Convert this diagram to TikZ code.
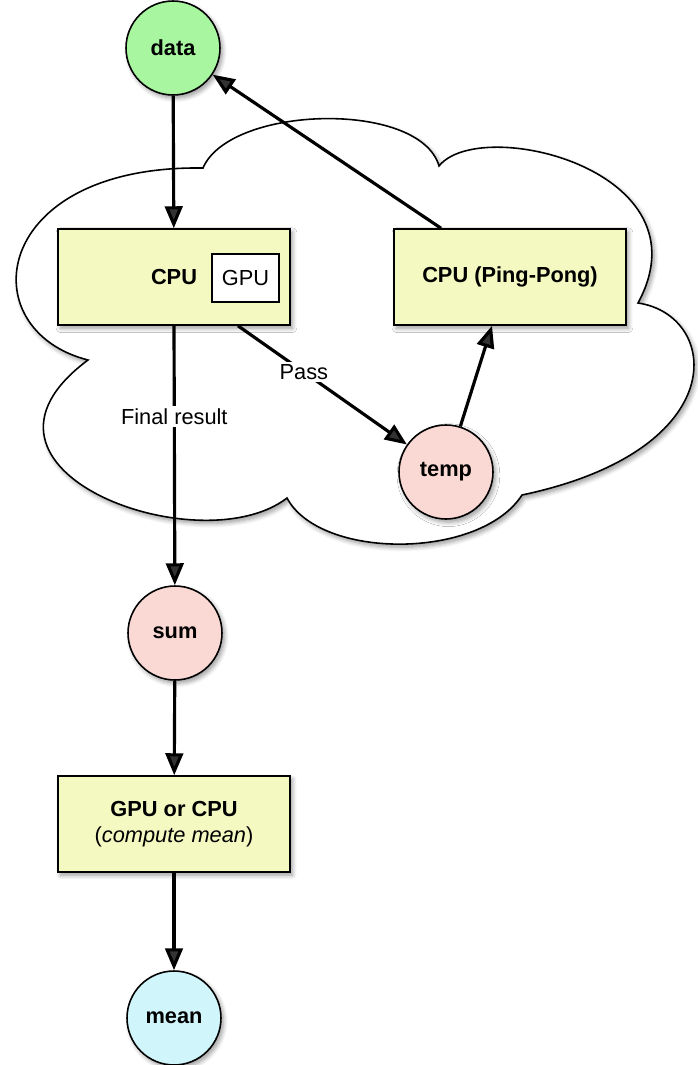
\documentclass[tikz,border=0pt]{standalone}
\usepackage{fontspec}
\setmainfont{Liberation Sans}
\usepackage{tikz}
\usetikzlibrary{arrows.meta}
\usetikzlibrary{positioning}
\usetikzlibrary{shadows.blur}

\definecolor{datagreen}{RGB}{168,246,160}
\definecolor{procyellow}{RGB}{243,249,193}
\definecolor{temppink}{RGB}{250,217,213}
\definecolor{meancyan}{RGB}{208,245,251}

\newcommand{\diagfont}{\fontsize{12.4}{15}\selectfont}

\tikzset{
  softshadow/.style={blur shadow={shadow blur steps=6, shadow xshift=1.4pt,
      shadow yshift=-1.8pt, shadow blur radius=2.5pt, shadow opacity=40}},
  proc/.style={draw, line width=0.9pt, fill=procyellow, minimum width=4.64cm,
      minimum height=1.92cm, softshadow},
  datum/.style={circle, draw, line width=0.9pt, minimum size=1.88cm,
      inner sep=0pt, font=\diagfont\bfseries, softshadow},
  flow/.style={-{Triangle[length=12.5pt,width=10pt]}, line width=1.8pt},
  tag/.style={fill=white, inner sep=1.5pt}
}

\begin{document}
\begin{tikzpicture}[
    x=0.02cm, y=-0.02cm,
    font=\diagfont]

    \useasboundingbox (0, 0) rectangle (697, 1065);

    % the cloud round the ping-pong part
    \filldraw [fill=white, line width=0.9pt, softshadow] (203, 168)
    .. controls (230, 105) and (420, 100) .. (439, 166)
    .. controls (480, 115) and (710, 170) .. (638, 303)
    .. controls (720, 315) and (735, 450) .. (522, 495)
    .. controls (480, 560) and (320, 560) .. (287, 498)
    .. controls (200, 565) and (-60, 470) .. (88, 360)
    .. controls (-30, 330) and (-10, 165) .. (203, 168) -- cycle;

    \node [datum, fill=datagreen] (data) at (173, 48) {data};
    \node [proc] (cpu) at (174, 277) {};
    \node [font=\diagfont\bfseries] (cpulabel) at (174, 277) {CPU};
    \node [draw, fill=white, line width=0.7pt, minimum width=1.34cm,
      minimum height=0.96cm, inner sep=0pt] (gpu) at (245.5, 278) {GPU};
    \node [proc, font=\diagfont\bfseries] (pingpong) at (510, 277) {CPU (Ping-Pong)};
    \node [datum, fill=temppink] (temp) at (446, 472) {temp};
    \node [datum, fill=temppink] (sum) at (175, 633) {sum};
    \node [proc, align=center] (mean proc) at (174, 824)
      {\textbf{GPU or CPU}\\(\textit{compute mean})};
    \node [datum, fill=meancyan] (mean) at (174, 1018) {mean};

    \draw [flow] (data) -- (cpu);
    \draw [flow] ([xshift=1.28cm]cpu.south) -- node [tag, pos=0.39] {Pass} (temp);
    \draw [flow] (temp) -- ([xshift=-0.36cm]pingpong.south);
    \draw [flow] ([xshift=-1.38cm]pingpong.north) -- (data);
    \draw [flow] (cpu.south) -- node [tag, pos=0.35] {Final result} (sum);
    \draw [flow] (sum) -- (mean proc);
    \draw [flow] (mean proc) -- (mean);

  \end{tikzpicture}
\end{document}
